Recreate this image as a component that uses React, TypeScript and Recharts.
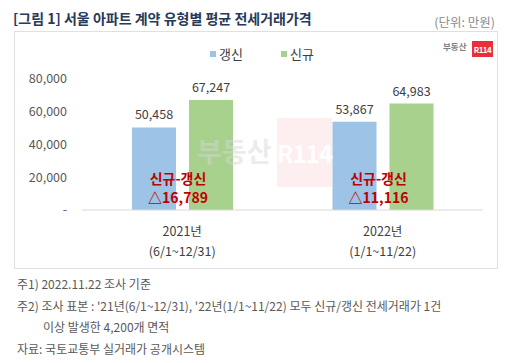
import { BarChart, Bar, XAxis, YAxis, LabelList } from 'recharts';

const categories = ['2021년', '2022년'];
const periods = ['(6/1~12/31)', '(1/1~11/22)'];
const renewal = [50458, 53867]; // 갱신
const newContract = [67247, 64983]; // 신규
const diffs = [16789, 11116]; // 신규-갱신
const yTicks = [0, 20000, 40000, 60000, 80000];

const BLUE = '#9dc3e6';
const GREEN = '#a9d18e';
const FONT = '"Noto Sans CJK KR", "Noto Sans", sans-serif';

const data = categories.map((name, i) => ({
  name,
  period: periods[i],
  renewal: renewal[i],
  newContract: newContract[i],
  diff: diffs[i],
}));

const CategoryTick = ({ x, y, index }: any) => (
  <g>
    <text x={x} y={y + 20} textAnchor="middle" dominantBaseline="central" fontSize={12.5} fill="#404040" fontFamily={FONT}>
      {categories[index]}
    </text>
    <text x={x} y={y + 40} textAnchor="middle" dominantBaseline="central" fontSize={12.5} fill="#404040" fontFamily={FONT}>
      {periods[index]}
    </text>
  </g>
);

const DiffLabel = ({ x, y, height, value }: any) => {
  const cx = Number(x) - 11;
  const bottom = Number(y) + Number(height);
  return (
    <g fontFamily={FONT} fontWeight="bold" fill="#c00000" fontSize={14}>
      <text x={cx} y={bottom - 32} textAnchor="middle" dominantBaseline="central">신규-갱신</text>
      <text x={cx} y={bottom - 13} textAnchor="middle" dominantBaseline="central">
        {'△' + Number(value).toLocaleString('en-US')}
      </text>
    </g>
  );
};

export default function App() {
  return (
    <div style={{ position: 'absolute', left: 0, top: 0, width: 512, height: 363, background: '#fff', fontFamily: FONT, overflow: 'hidden' }}>
      <div style={{ position: 'absolute', left: 13, top: 8, fontSize: 14, fontWeight: 'bold', color: '#263a5a', whiteSpace: 'nowrap' }}>
        [그림 1] 서울 아파트 계약 유형별 평균 전세거래가격
      </div>
      <div style={{ position: 'absolute', right: 17, top: 12, fontSize: 12.5, color: '#8c8c8c', whiteSpace: 'nowrap' }}>
        (단위: 만원)
      </div>
      <div style={{ position: 'absolute', left: 14, top: 31, width: 482, height: 236, border: '1px solid #e0e0e0' }} />

      <div style={{ position: 'absolute', left: 277, top: 118, width: 55, height: 69, background: '#fdeef0' }} />

      {/* logo */}
      <div style={{ position: 'absolute', left: 443, top: 40, fontSize: 8.5, fontWeight: 'bold', color: '#7f7f7f' }}>부동산</div>
      <div style={{ position: 'absolute', left: 472, top: 41, width: 21, height: 16, background: '#e8303d', color: '#fff', fontSize: 8, fontWeight: 'bold', display: 'flex', alignItems: 'center', justifyContent: 'center', letterSpacing: -0.5 }}>
        R114
      </div>

      {/* legend */}
      <div style={{ position: 'absolute', left: 210, top: 44, display: 'flex', alignItems: 'center', fontSize: 13, color: '#404040' }}>
        <span style={{ width: 6, height: 6, background: BLUE, marginRight: 3 }} />
        <span style={{ marginRight: 38 }}>갱신</span>
        <span style={{ width: 6, height: 6, background: GREEN, marginRight: 3 }} />
        <span>신규</span>
      </div>

      <div style={{ position: 'absolute', left: 0, top: 0 }}>
        <BarChart width={512} height={270} data={data} margin={{ top: 79, right: 29, bottom: 10, left: 0 }} barSize={44} barGap={13}>
          <XAxis dataKey="name" axisLine={{ stroke: '#d9d9d9' }} tickLine={false} tickSize={0} tickMargin={0} height={50} tick={<CategoryTick />} interval={0} />
          <YAxis
            domain={[0, 80000]}
            ticks={yTicks}
            axisLine={false}
            tickLine={false}
            tickSize={0}
            tickMargin={15}
            width={82}
            tick={{ fontSize: 12.5, fill: '#595959', fontFamily: FONT }}
            tickFormatter={(v: number) => (v === 0 ? '-' : v.toLocaleString('en-US'))}
          />
          <Bar dataKey="renewal" name="갱신" fill={BLUE} isAnimationActive={false}>
            <LabelList dataKey="renewal" position="top" offset={8} fontSize={12.5} fill="#404040" fontFamily={FONT} formatter={(v: any) => Number(v).toLocaleString('en-US')} />
          </Bar>
          <Bar dataKey="newContract" name="신규" fill={GREEN} isAnimationActive={false}>
            <LabelList dataKey="newContract" position="top" offset={8} fontSize={12.5} fill="#404040" fontFamily={FONT} formatter={(v: any) => Number(v).toLocaleString('en-US')} />
            <LabelList dataKey="diff" content={<DiffLabel />} />
          </Bar>
        </BarChart>
      </div>

      {/* watermark, faint, over the bars */}
      <div style={{ position: 'absolute', left: 197, top: 131, fontSize: 27, fontWeight: 'bold', color: 'rgba(214,214,214,0.47)', pointerEvents: 'none' }}>부동산</div>
      <div style={{ position: 'absolute', left: 277, top: 118, width: 55, height: 69, color: '#ffffff', fontSize: 24, fontWeight: 'bold', display: 'flex', alignItems: 'center', justifyContent: 'center', letterSpacing: -1 }}>
        R114
      </div>

      {/* notes */}
      <div style={{ position: 'absolute', left: 17, top: 273, fontSize: 12, color: '#595959', lineHeight: '21.5px', whiteSpace: 'nowrap' }}>
        <div>주1) 2022.11.22 조사 기준</div>
        <div>주2) 조사 표본 : '21년(6/1~12/31), '22년(1/1~11/22) 모두 신규/갱신 전세거래가 1건</div>
        <div style={{ paddingLeft: 26 }}>이상 발생한 4,200개 면적</div>
        <div>자료: 국토교통부 실거래가 공개시스템</div>
      </div>
    </div>
  );
}
